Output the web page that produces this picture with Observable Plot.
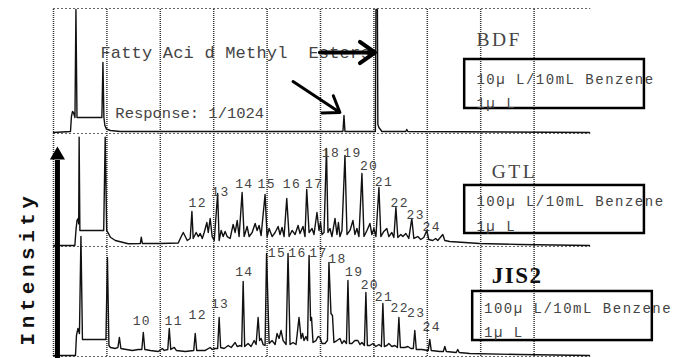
<!DOCTYPE html>
<html><head><meta charset="utf-8">
<script src="https://cdn.jsdelivr.net/npm/d3@7"></script>
<script src="https://cdn.jsdelivr.net/npm/@observablehq/plot@0.6"></script>
<style>
html,body{margin:0;padding:0;background:#fff;}
#chart{width:688px;height:358px;overflow:hidden;}
</style></head><body><div id="chart"></div>
<script>
// Retention time (min) of the recorder grid lines
const gridMinutes = [0,5,10,15,20,25,30,35,40,45];
// Panels, bottom to top; intensity is in % of panel height
const panelNames = ["JIS2","GTL","BDF"];
const panelOffset = {JIS2: 0, GTL: 100, BDF: 200};

// [time (min), intensity (% of panel)]
const bdfTrace = [[0,0.8],[1.59,1.6],[1.68,13.6],[1.78,17.6],[1.87,16.8],[2.01,12.8],[2.1,99.2],[2.2,12.8],[4.53,12.8],[4.63,56.8],[4.72,12.8],[4.81,6.4],[4.95,3.6],[5.33,2.4],[6.26,1.6],[27.1,1.6],[27.2,14.4],[27.29,1.6],[30.14,1.6],[30.19,99.2],[30.33,99.2],[30.37,7.2],[30.47,4.8],[30.75,1.6],[32.99,1.6],[33.08,3.2],[33.18,1.6],[50.19,0.8]];

const gtlTrace = [[0,0.9],[2.0,0.9],[2.1,14],[2.2,23],[2.3,24.8],[2.36,20],[2.4,96.7],[2.47,14.2],[4.7,14.2],[4.84,96.7],[4.98,14.2],[5.08,12.7],[5.33,8.2],[5.79,5.3],[7.0,2.4],[8.13,2.7],[8.22,8.3],[8.32,2.7],[10.0,2.7],[11.68,3.1],[11.96,8.8],[12.15,12.4],[12.34,8.8],[12.52,5.3],[12.8,7.1],[12.96,31],[13.08,7.1],[13.36,12.4],[13.55,8.8],[13.74,11.5],[13.93,7.1],[14.11,12.4],[14.36,21.2],[14.49,12.4],[14.67,24.8],[14.86,8.8],[15.05,5.3],[15.37,46.9],[15.51,5.3],[15.7,14.2],[15.89,8.8],[16.07,13.3],[16.26,8.8],[16.54,7.1],[16.82,19.5],[17.01,12.4],[17.2,23],[17.38,8.8],[17.66,47.8],[17.85,8.8],[18.13,17.7],[18.32,8.8],[18.6,12.4],[18.88,20.4],[19.07,14.2],[19.25,18.6],[19.44,9.7],[19.81,46],[20.0,8.8],[20.19,15.9],[20.47,8.8],[20.75,12.4],[21.03,17.7],[21.21,10.6],[21.4,16.8],[21.59,8.8],[21.84,42.5],[22.06,8.8],[22.34,14.2],[22.62,10.6],[22.9,18.6],[23.08,11.5],[23.36,17.7],[23.55,8.8],[23.71,50.4],[23.93,12.4],[24.21,15.9],[24.39,10.6],[24.67,30.1],[24.86,14.2],[25.0,21.2],[25.14,10.6],[25.33,12.4],[25.56,86.7],[25.7,12.4],[25.89,15.9],[26.07,8.8],[26.36,24.8],[26.54,10.6],[26.68,21.2],[26.82,8.8],[27.01,14.2],[27.29,80.5],[27.48,10.6],[27.76,14.2],[28.04,23],[28.22,10.6],[28.41,15.9],[28.6,8.8],[28.88,64.6],[29.07,8.8],[29.35,14.2],[29.63,20.4],[29.81,10.6],[30.0,15.9],[30.19,8.8],[30.47,52.2],[30.65,8.8],[30.93,13.3],[31.21,15.9],[31.4,8.8],[31.68,12.4],[31.87,8],[32.06,34.5],[32.24,8],[32.52,10.6],[32.71,8.8],[32.99,11.5],[33.27,7.1],[33.55,24.8],[33.74,7.1],[34.11,8.8],[34.39,6.2],[34.67,8],[34.95,14.2],[35.14,6.2],[35.51,5.3],[35.79,7.1],[35.98,5.3],[36.45,10.6],[36.64,5.3],[37.1,4.4],[38.5,3.5],[39.9,2.7],[43.64,1.8],[50.19,0.9]];

const jis2Trace = [[0,0.9],[2.06,0.9],[2.15,19.1],[2.29,25.5],[2.43,20.9],[2.57,109],[2.71,15.5],[4.91,15.5],[5.05,90],[5.19,10],[5.33,8.2],[5.79,7.3],[6.03,8.2],[6.17,17.3],[6.31,7.3],[6.82,6.4],[7.38,5.5],[7.94,6.4],[8.27,6.4],[8.41,21.8],[8.55,6.4],[9.07,5.5],[9.81,4.5],[10.19,7.3],[10.37,5.5],[10.7,6.4],[10.84,25.5],[10.98,6.4],[11.31,8.2],[11.5,5.5],[12.34,4.5],[13.13,5.5],[13.27,20.9],[13.41,5.5],[14.21,5.5],[14.67,8.2],[14.86,6.4],[15.14,7.3],[15.37,7.3],[15.51,35.5],[15.65,8.2],[15.98,7.3],[16.36,10],[16.64,8.2],[17.01,12.7],[17.2,9.1],[17.48,10],[17.62,9.1],[17.76,68.2],[17.9,9.1],[18.22,11.8],[18.5,9.1],[18.79,14.5],[18.97,10.9],[19.16,35.5],[19.3,14.5],[19.44,16.4],[19.63,10.9],[19.81,10],[19.95,93.6],[20.19,11.8],[20.47,14.5],[20.75,10.9],[20.93,20.9],[21.12,16.4],[21.31,23.6],[21.5,14.5],[21.78,10.9],[21.96,93.6],[22.15,10.9],[22.43,12.7],[22.71,10.9],[22.99,35.5],[23.18,16.4],[23.32,20.9],[23.46,14.5],[23.64,18.2],[23.79,14.5],[23.93,91.8],[24.07,32.7],[24.16,35.5],[24.3,12.7],[24.58,14.5],[24.77,18.2],[24.95,17.3],[25.14,11.8],[25.42,11.8],[25.65,14.5],[25.79,85.5],[25.98,39.1],[26.12,37.3],[26.26,12.7],[26.54,14.5],[26.82,16.4],[27.01,11.8],[27.2,14.5],[27.43,11.8],[27.57,69.1],[27.71,11.8],[27.94,11.8],[28.22,14.5],[28.5,14.5],[28.69,10.9],[28.88,12.7],[29.11,10],[29.25,58.2],[29.39,10],[29.63,10],[29.91,11.8],[30.19,9.1],[30.47,10.9],[30.7,9.1],[30.84,48.2],[30.98,9.1],[31.21,10],[31.4,11.8],[31.68,9.1],[31.96,10],[32.2,8.2],[32.34,35.5],[32.48,8.2],[32.9,8.2],[33.18,9.1],[33.46,7.3],[33.69,7.3],[33.83,23.6],[33.97,6.4],[34.49,6.4],[35.09,5.5],[35.23,15.5],[35.37,5.5],[36.17,4.5],[36.5,4.5],[36.64,9.1],[36.78,4.5],[37.71,3.6],[37.85,6.4],[37.99,3.6],[38.97,2.7],[43.64,1.8],[50.19,0.9]];

// Peak number labels (carbon numbers) and where they are written
const gtlPeakNumbers = ["12","13","14","15","16","17","18","19","20","21","22","23","24"];
const gtlLabelTimes = [12.65,14.77,17.01,19.1,21.47,23.55,25.12,27.13,28.69,30.09,31.56,33.05,34.55];
const gtlLabelHeights = [34.8,45.1,51.9,51.9,51.9,51.9,79,79,68.1,53.1,34.8,24.5,13.5];
const jis2PeakNumbers = ["10","11","12","13","14","15","16","17","18","19","20","21","22","23","24"];
const jis2LabelTimes = [7.41,10.4,12.65,14.74,17.01,20.07,21.99,23.95,25.73,27.29,28.76,30.09,31.56,33.1,34.55];
const jis2LabelHeights = [28.2,28.2,34.2,44.3,73.6,90.3,90.3,90.3,85.2,73.6,61.5,50.9,40.3,35.5,22.8];

// Sample descriptions
const sampleNames = ["BDF","GTL","JIS2"];
const sampleLine1 = ["10\u00b5 L/10mL Benzene","100\u00b5 L/10mL Benzene","100\u00b5 L/10mL Benzene"];
const sampleLine2 = ["1\u00b5 L","1\u00b5 L","1\u00b5 L"];

// ---- build tables ----
const traceRows = [];
for (const [name, tr] of [["BDF", bdfTrace], ["GTL", gtlTrace], ["JIS2", jis2Trace]]) {
  for (const [t, v] of tr) traceRows.push({panel: name, t, y: panelOffset[name] + v});
}
const labelRows = [];
gtlPeakNumbers.forEach((n, i) => labelRows.push({text: n, t: gtlLabelTimes[i], y: panelOffset.GTL + gtlLabelHeights[i]}));
jis2PeakNumbers.forEach((n, i) => labelRows.push({text: n, t: jis2LabelTimes[i], y: panelOffset.JIS2 + jis2LabelHeights[i]}));

// annotation anchors (time, % of panel)
const boxes = [
  {t1: 38.5, t2: 55.33, y1: panelOffset.BDF + 20, y2: panelOffset.BDF + 59.2},
  {t1: 38.5, t2: 55.33, y1: panelOffset.GTL + 11.5, y2: panelOffset.GTL + 54},
  {t1: 39.25, t2: 56.07, y1: panelOffset.JIS2 + 14.5, y2: panelOffset.JIS2 + 59.1}
];
const boxText = [
  {text: sampleLine1[0], t: 39.6, y: panelOffset.BDF + 39.8},
  {text: sampleLine2[0], t: 39.6, y: panelOffset.BDF + 20.8},
  {text: sampleLine1[1], t: 39.6, y: panelOffset.GTL + 35.4},
  {text: sampleLine2[1], t: 39.6, y: panelOffset.GTL + 13.5},
  {text: sampleLine1[2], t: 40.31, y: panelOffset.JIS2 + 39.4},
  {text: sampleLine2[2], t: 40.31, y: panelOffset.JIS2 + 17.5}
];
const titleLight = [
  {text: sampleNames[0], t: 39.6, y: panelOffset.BDF + 70.4},
  {text: sampleNames[1], t: 41.03, y: panelOffset.GTL + 61}
];
const titleBold = [{text: sampleNames[2], t: 41.03, y: panelOffset.JIS2 + 66.4}];

const chart = Plot.plot({
  width: 688,
  height: 358,
  margin: 0,
  x: {domain: [0, 50], range: [53, 587], axis: null},
  y: {type: "linear", domain: [0, 100, 200, 300], range: [356, 246, 133, 8], axis: null},
  style: {background: "#fff", overflow: "visible"},
  marks: [
    Plot.ruleY([0, 100, 200, 300], {x1: 0, x2: 50.3, stroke: "#666", strokeWidth: 1, strokeDasharray: "2,2"}),
    Plot.ruleX(gridMinutes, {y1: 0, y2: 300, stroke: "#333", strokeWidth: 1.5, strokeDasharray: "1,1"}),
    Plot.line(traceRows, {x: "t", y: "y", z: "panel", stroke: "#111", strokeWidth: 1.4}),
    Plot.rect(boxes, {x1: "t1", x2: "t2", y1: "y1", y2: "y2", fill: "none", stroke: "#000", strokeWidth: 2.5}),
    Plot.text(labelRows, {x: "t", y: "y", text: "text", textAnchor: "start", lineAnchor: "bottom", fontFamily: "Liberation Mono", fontSize: 13, fill: "#444"}),
    Plot.text(boxText, {x: "t", y: "y", text: "text", textAnchor: "start", lineAnchor: "bottom", fontFamily: "Liberation Mono", fontSize: 14, fill: "#444"}),
    Plot.text(titleLight, {x: "t", y: "y", text: "text", textAnchor: "start", lineAnchor: "bottom", fontFamily: "Liberation Serif", fontSize: 19.5, fill: "#444"}),
    Plot.text(titleBold, {x: "t", y: "y", text: "text", textAnchor: "start", lineAnchor: "bottom", fontFamily: "Liberation Serif", fontSize: 23, fontWeight: "bold", fill: "#111"}),
    Plot.text([{text: "Fatty Aci d Methyl\u00a0 Esters", t: 4.39, y: panelOffset.BDF + 60.8}], {x: "t", y: "y", text: "text", textAnchor: "start", lineAnchor: "bottom", fontFamily: "Liberation Mono", fontSize: 17, fill: "#444"}),
    Plot.text([{text: "Response: 1/1024", t: 5.79, y: panelOffset.BDF + 12.8}], {x: "t", y: "y", text: "text", textAnchor: "start", lineAnchor: "bottom", fontFamily: "Liberation Mono", fontSize: 15.5, fill: "#444"}),
    Plot.arrow([{x1: 24.95, y1: panelOffset.BDF + 64.8, x2: 30.1, y2: panelOffset.BDF + 64.8}], {x1: "x1", y1: "y1", x2: "x2", y2: "y2", stroke: "#000", strokeWidth: 4, headLength: 9, headAngle: 70}),
    Plot.arrow([{x1: 22.43, y1: panelOffset.BDF + 41.6, x2: 26.82, y2: panelOffset.BDF + 16.8}], {x1: "x1", y1: "y1", x2: "x2", y2: "y2", stroke: "#000", strokeWidth: 3, headLength: 9, headAngle: 70}),
    Plot.ruleX([{t: 0.37}], {x: "t", y1: -2, y2: panelOffset.GTL + 76, stroke: "#000", strokeWidth: 5}),
    Plot.dot([{t: 0.37, y: panelOffset.GTL + 80.8}], {x: "t", y: "y", symbol: "triangle", r: 5.6, fill: "#000", stroke: "none"}),
    Plot.text([{text: "Intensity", t: -2.43, y: panelOffset.JIS2 + 80}], {x: "t", y: "y", text: "text", rotate: -90, textAnchor: "middle", lineAnchor: "middle", fontFamily: "Liberation Mono", fontSize: 21, fontWeight: "bold", fill: "#111"})
  ]
});
document.getElementById("chart").appendChild(chart);
// letter spacing of the typewriter-style texts
for (const g of chart.querySelectorAll("g[font-size]")) {
  const fs = parseFloat(g.getAttribute("font-size"));
  const ls = fs === 13 ? 1.4 : fs === 14 ? 1.5 : fs === 21 ? 4.5 : fs === 19.5 ? 2.5 : fs === 23 ? 1.5 : fs === 17 ? 0.2 : 0;
  if (ls) g.setAttribute("letter-spacing", ls);
}
</script></body></html>
